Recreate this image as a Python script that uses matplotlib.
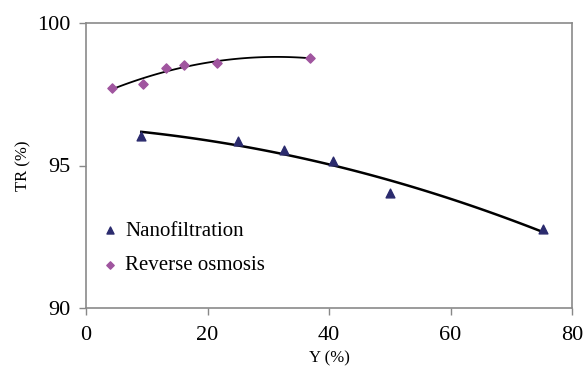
import matplotlib.pyplot as plt
import numpy as np

# Veriler
ro_y = [4.2, 9.4, 13.1, 16.1, 21.6, 36.8]
ro_tr = [97.72, 97.87, 98.42, 98.53, 98.59, 98.77]

nf_y = [9.1, 25.0, 32.6, 40.6, 50.1, 75.3]
nf_tr = [96.05, 95.85, 95.56, 95.15, 94.05, 92.76]

plt.rcParams["font.family"] = ["Liberation Serif", "DejaVu Serif"]

fig = plt.figure(figsize=(5.84, 3.70), dpi=100)
ax = fig.add_axes([86 / 584, 1 - 308 / 370, 486 / 584, 285 / 370])

# Egilim cizgileri (2. derece polinom)
for xs, ys in [(ro_y, ro_tr), (nf_y, nf_tr)]:
    k = np.polyfit(xs, ys, 2)
    xx = np.linspace(min(xs), max(xs), 100)
    ax.plot(xx, np.polyval(k, xx), color="black", lw=1.8 if xs is nf_y else 1.3, zorder=2)

ax.scatter(nf_y, nf_tr, marker="^", s=40, color="#2b2b6e", label="Nanofiltration", zorder=3)
ax.scatter(ro_y, ro_tr, marker="D", s=22, color="#a0559f", label="Reverse osmosis", zorder=3)

ax.set_xlim(0, 80)
ax.set_ylim(90, 100)
ax.set_xticks([0, 20, 40, 60, 80])
ax.set_yticks([90, 95, 100])
ax.tick_params(axis="both", labelsize=16, color="#888888", length=5, width=1)
ax.tick_params(axis="y", pad=6)
ax.tick_params(axis="x", pad=8)
for s in ax.spines.values():
    s.set_color("#8a8a8a")
    s.set_linewidth(1.2)

ax.set_xlabel("Y (%)", fontsize=12, labelpad=4)
ax.set_ylabel("TR (%)", fontsize=12, labelpad=4)

ax.legend(loc="lower left", bbox_to_anchor=(-0.01, 0.05), frameon=False, fontsize=15,
          handletextpad=0.2, labelspacing=0.7, markerscale=0.8, handlelength=1.0)

plt.savefig("out.png", dpi=100)
plt.close()
